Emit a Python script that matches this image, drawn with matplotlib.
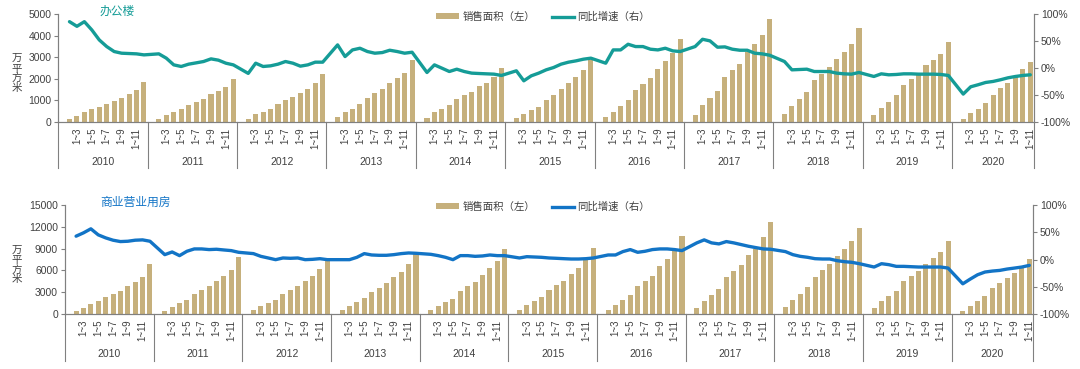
import numpy as np
import matplotlib
matplotlib.use("Agg")
import matplotlib.pyplot as plt
from matplotlib.patches import Patch
from matplotlib.lines import Line2D
from matplotlib.transforms import blended_transform_factory

plt.rcParams["font.family"] = ["Liberation Sans", "Noto Sans CJK SC"]

years = ["2010", "2011", "2012", "2013", "2014", "2015",
         "2016", "2017", "2018", "2019", "2020"]

# cumulative sales area (万平方米), periods 1~2 ... 1~12 (no January figure)
office_area = [
    [139, 293, 447, 586, 710, 849, 957, 1111, 1281, 1481, 1867],
    [154, 339, 463, 602, 772, 910, 1065, 1296, 1450, 1636, 2006],
    [154, 370, 478, 617, 833, 1003, 1173, 1342, 1543, 1805, 2237],
    [231, 447, 617, 833, 1096, 1327, 1512, 1805, 2037, 2284, 2870],
    [200, 463, 617, 802, 1065, 1265, 1389, 1651, 1821, 2098, 2500],
    [200, 370, 540, 710, 1034, 1265, 1512, 1821, 2068, 2423, 2885],
    [216, 478, 741, 1034, 1481, 1775, 2052, 2438, 2808, 3194, 3842],
    [324, 772, 1111, 1450, 2068, 2392, 2700, 3225, 3610, 4043, 4752],
    [370, 741, 1065, 1389, 1929, 2237, 2546, 2931, 3240, 3595, 4367],
    [309, 648, 926, 1234, 1728, 1990, 2268, 2623, 2870, 3163, 3719],
    [154, 417, 617, 895, 1265, 1558, 1821, 2068, 2438, 2762],
]
# year-on-year growth (%)
office_yoy = [
    [85.8, 77.2, 85.8, 70.5, 52.0, 39.7, 30.5, 27.4, 26.8, 26.2, 24.3],
    [26.2, 18.2, 5.8, 2.8, 7.1, 9.5, 12.0, 16.9, 14.5, 8.9, 5.8],
    [-10.0, 8.9, 2.8, 4.0, 7.1, 12.0, 8.9, 3.4, 5.8, 10.8, 10.8],
    [42.8, 21.2, 33.5, 36.6, 30.5, 27.4, 28.6, 32.9, 30.5, 27.4, 29.2],
    [-8.3, 5.8, -0.3, -6.5, -2.2, -6.5, -9.5, -10.2, -10.8, -11.4, -13.8],
    [-5.2, -23.7, -14.5, -9.5, -3.4, 0.9, 7.1, 10.8, 13.2, 16.3, 18.2],
    [8.9, 33.5, 33.5, 44.0, 39.7, 39.7, 34.8, 33.5, 36.6, 31.7, 30.5],
    [39.7, 53.2, 50.2, 38.5, 39.1, 34.8, 32.9, 32.9, 27.4, 26.2, 23.7],
    [12.0, -3.4, -2.8, -2.2, -6.5, -6.5, -6.5, -9.5, -10.8, -11.4, -8.3],
    [-15.7, -10.8, -12.6, -12.0, -10.8, -10.8, -11.4, -11.4, -11.4, -12.0, -13.8],
    [-48.3, -34.8, -31.0, -26.8, -24.9, -21.8, -18.2, -15.7, -13.8, -12.6],
]

retail_area = [
    [413, 872, 1376, 1743, 2294, 2706, 3165, 3853, 4404, 5137, 6835],
    [459, 1009, 1468, 1972, 2752, 3257, 3807, 4541, 5229, 6055, 7844],
    [505, 1101, 1514, 1972, 2798, 3303, 3899, 4541, 5229, 6147, 7752],
    [505, 1147, 1606, 2202, 3027, 3624, 4220, 5046, 5780, 6835, 8348],
    [505, 1147, 1651, 2110, 3211, 3853, 4449, 5321, 6330, 7339, 8991],
    [550, 1193, 1743, 2294, 3303, 3945, 4495, 5504, 6330, 7660, 9128],
    [596, 1284, 1927, 2660, 3807, 4495, 5275, 6605, 7614, 8715, 10734],
    [780, 1789, 2569, 3486, 5092, 5917, 6743, 8119, 8945, 10550, 12706],
    [917, 1927, 2798, 3716, 5137, 6055, 6881, 7981, 8945, 10000, 11880],
    [780, 1789, 2523, 3211, 4495, 5229, 5917, 6927, 7660, 8578, 10092],
    [367, 1147, 1743, 2523, 3624, 4266, 4908, 5642, 6514, 7614],
]
retail_yoy = [
    [42.8, 48.9, 56.3, 45.2, 39.7, 35.4, 32.9, 33.5, 35.4, 36.0, 33.5],
    [8.9, 13.8, 7.1, 15.1, 19.4, 19.4, 18.2, 18.8, 17.5, 16.3, 13.2],
    [10.8, 5.8, 2.8, -0.3, 2.8, 2.2, 2.8, -0.3, 0.3, 1.5, -0.3],
    [-0.3, -0.3, 4.0, 10.8, 8.3, 7.7, 7.7, 8.9, 10.8, 12.0, 11.4],
    [9.5, 7.1, 4.0, -0.3, 7.1, 7.1, 5.8, 6.5, 8.3, 7.1, 7.1],
    [2.8, 5.2, 4.6, 4.0, 2.8, 2.2, 1.5, 0.9, 0.9, 1.5, 2.8],
    [8.3, 8.3, 14.5, 18.2, 13.2, 15.1, 18.2, 19.4, 19.4, 18.2, 16.3],
    [30.5, 36.0, 30.5, 28.6, 32.9, 30.5, 27.4, 24.3, 21.8, 19.4, 18.8],
    [14.5, 8.9, 5.8, 4.0, 1.5, 0.9, 0.9, -2.2, -4.0, -5.2, -7.7],
    [-13.8, -7.7, -9.5, -12.6, -12.6, -13.2, -13.8, -13.8, -13.8, -13.8, -15.7],
    [-44.6, -36.0, -28.0, -23.0, -21.2, -20.0, -17.5, -15.7, -13.8, -10.8],
]

BAR_COLOR = "#c6b07c"
TEXT_COLOR = "#404040"
AXIS_COLOR = "#808080"


def flatten(series):
    # January slot is left empty in every year
    xs, vals, bounds = [], [], [0]
    start = 0
    for year_vals in series:
        for m, v in enumerate(year_vals, start=1):
            xs.append(start + m + 0.5)
            vals.append(v)
        start += len(year_vals) + 1
        bounds.append(start)
    return np.array(xs), np.array(vals, dtype=float), bounds


def draw_panel(fig, rect, area, yoy, ymax, ystep, line_color, title, title_y, legend_y):
    ax = fig.add_axes(rect)
    x, a, bounds = flatten(area)
    xl, g, _ = flatten(yoy)
    total = bounds[-1]

    ax.bar(x, a, width=0.68, color=BAR_COLOR, zorder=2)
    ax.set_xlim(0, total)
    ax.set_ylim(0, ymax)
    ax.set_yticks(np.arange(0, ymax + 1, ystep))

    ax2 = ax.twinx()
    ax2.plot(xl, g, color=line_color, lw=2.4, solid_joinstyle="round",
             solid_capstyle="round", zorder=3)
    ax2.set_ylim(-100, 100)
    ax2.set_yticks([-100, -50, 0, 50, 100])
    ax2.set_yticklabels([f"{v}%" for v in [-100, -50, 0, 50, 100]])

    # category labels 1~3, 1~5, ...
    ticks, labels = [], []
    for k in range(len(bounds) - 1):
        n = bounds[k + 1] - bounds[k]
        for j in range(2, n, 2):
            ticks.append(bounds[k] + j + 0.5)
            labels.append(f"1~{j + 1}")
    ax.set_xticks(ticks)
    ax.set_xticklabels(labels, rotation=90, fontsize=7, color=TEXT_COLOR)
    ax.tick_params(axis="x", length=0, pad=4)

    for a_ in (ax, ax2):
        for s in a_.spines.values():
            s.set_color(AXIS_COLOR)
            s.set_linewidth(0.8)
        a_.spines["top"].set_visible(False)
        a_.tick_params(axis="y", length=3, width=0.8, color=AXIS_COLOR,
                       labelsize=7.5, labelcolor=TEXT_COLOR, pad=2)

    # year groups
    tr = blended_transform_factory(ax.transData, ax.transAxes)
    depth = -0.43
    for b in bounds:
        ax.add_line(Line2D([b, b], [0, depth], transform=tr, color=AXIS_COLOR,
                           lw=0.8, clip_on=False))
    for k, yr in enumerate(years):
        ax.text((bounds[k] + bounds[k + 1]) / 2, -0.37, yr, transform=tr,
                ha="center", va="center", fontsize=7.5, color=TEXT_COLOR)

    fig.text(17 / 1080, rect[1] + rect[3] * 0.45, "\n".join("万平方米"),
             ha="center", va="center", fontsize=7.5, color=TEXT_COLOR, linespacing=0.95)
    fig.text(100 / 1080, title_y, title, ha="left", va="center",
             fontsize=8.5, color=line_color)

    handles = [Patch(facecolor=BAR_COLOR, edgecolor="none"),
               Line2D([], [], color=line_color, lw=2.4)]
    fig.legend(handles, ["销售面积（左）", "同比增速（右）"], loc="center",
               bbox_to_anchor=(0.503, legend_y), ncol=2, frameon=False,
               fontsize=7.5, handlelength=2.2, handleheight=0.5,
               columnspacing=1.6, handletextpad=0.3, labelcolor=TEXT_COLOR)
    return ax


fig = plt.figure(figsize=(10.8, 3.69), dpi=100)

draw_panel(fig, [58.3 / 1080, 1 - 122 / 369, (1034 - 58.3) / 1080, 108 / 369],
           office_area, office_yoy, 5000, 1000, "#159c97", "办公楼",
           1 - 12 / 369, 1 - 17 / 369)
draw_panel(fig, [65 / 1080, 1 - 314 / 369, (1033 - 65) / 1080, 109 / 369],
           retail_area, retail_yoy, 15000, 3000, "#1274c6", "商业营业用房",
           1 - 203 / 369, 1 - 207 / 369)

fig.savefig("out.png", dpi=100)
